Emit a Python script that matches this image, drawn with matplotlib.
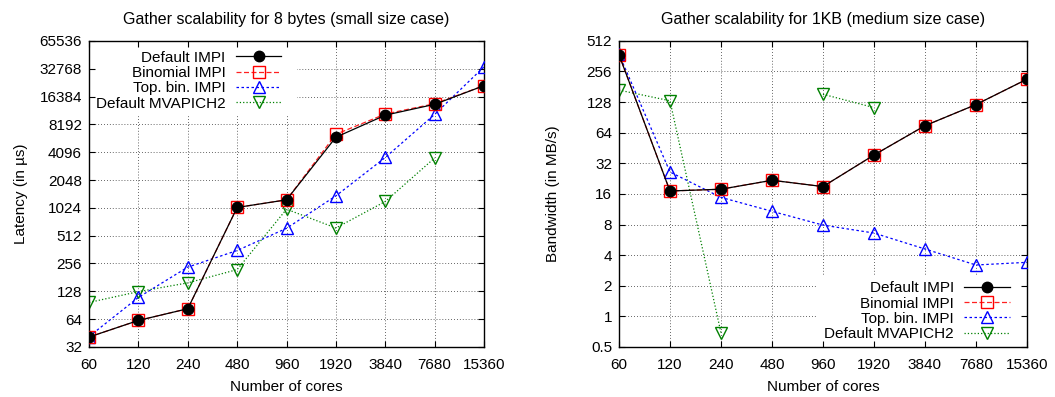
import numpy as np
import matplotlib.pyplot as plt
from matplotlib.patches import Rectangle

plt.rcParams['font.family'] = ['Liberation Sans', 'DejaVu Sans']
plt.rcParams['font.size'] = 11

cores = [60, 120, 240, 480, 960, 1920, 3840, 7680, 15360]

# latency (us), 8 bytes
lat_default = [41, 62, 83, 1034, 1250, 5950, 10300, 13500, 21500]
lat_binomial = [41, 62, 83, 1034, 1250, 6400, 10600, 13700, 21500]
lat_topbin = [41.5, 110, 234, 354, 615, 1380, 3590, 10500, 34400]
lat_mvapich = [97, 127, 158, 220, 990, 620, 1200, 3550, np.nan]

# bandwidth (MB/s), 1KB
bw_default = [375, 17.1, 17.8, 21.8, 18.9, 38.6, 75, 121, 215]
bw_binomial = [375, 17.1, 17.8, 21.8, 18.9, 38.6, 75, 121, 215]
bw_topbin = [380, 26.3, 14.8, 10.8, 7.9, 6.6, 4.6, 3.2, 3.4]
bw_mvapich = [168, 132, 0.69, np.nan, 153, 113, np.nan, np.nan, np.nan]

lat_ticks = [32, 64, 128, 256, 512, 1024, 2048, 4096, 8192, 16384, 32768, 65536]
bw_ticks = [0.5, 1, 2, 4, 8, 16, 32, 64, 128, 256, 512]

labels = ["Default IMPI", "Binomial IMPI", "Top. bin. IMPI", "Default MVAPICH2"]

fig = plt.figure(figsize=(10.55, 3.97), dpi=100)
ax1 = fig.add_axes([0.0844, 0.126, 0.3744, 0.771])
ax2 = fig.add_axes([0.5867, 0.126, 0.3867, 0.771])


def draw(ax, d, b, t, m, yt):
    ax.plot(cores, d, "-", color="black", lw=0.9, marker="o", ms=7.5,
            mfc="black", mec="black", label=labels[0], zorder=5)
    ax.plot(cores, b, "--", color="#ff2020", lw=0.9, marker="s", ms=8,
            mfc="none", mec="red", label=labels[1], zorder=4, dashes=(4, 2))
    ax.plot(cores, t, "--", color="blue", lw=0.9, marker="^", ms=8,
            mfc="none", mec="blue", label=labels[2], zorder=3, dashes=(2, 2))
    ax.plot(cores, m, ":", color="#008000", lw=0.9, marker="v", ms=8,
            mfc="none", mec="#008000", label=labels[3], zorder=2)
    ax.set_xscale("log", base=2)
    ax.set_yscale("log", base=2)
    ax.set_xlim(60, 15360)
    ax.set_ylim(yt[0], yt[-1])
    ax.set_xticks(cores)
    ax.set_xticklabels([str(c) for c in cores])
    ax.set_yticks(yt)
    ax.minorticks_off()
    # grid by hand so the key box can hide it
    for c in cores[1:-1]:
        ax.axvline(c, color="#333333", ls=(0, (1, 2.5)), lw=0.6, zorder=0.8)
    for v in yt[1:-1]:
        ax.axhline(v, color="#333333", ls=(0, (1, 2.5)), lw=0.6, zorder=0.8)
    ax.tick_params(direction="in", top=True, right=True, length=4,
                   labelsize=11)
    ax.tick_params(axis="x", pad=8)
    ax.tick_params(axis="y", pad=5)
    ax.set_xlabel("Number of cores", labelpad=6)
    for s in ax.spines.values():
        s.set_linewidth(1.0)


def make_legend(ax, loc, anchor):
    return ax.legend(loc=loc, bbox_to_anchor=anchor, markerfirst=False,
                     frameon=False, borderpad=0.15, labelspacing=0.08,
                     handlelength=3.0, handletextpad=0.65, borderaxespad=0.0,
                     fontsize=11)


draw(ax1, lat_default, lat_binomial, lat_topbin, lat_mvapich, lat_ticks)
ax1.set_yticklabels([str(v) for v in lat_ticks])
ax1.set_ylabel("Latency (in \u00b5s)", labelpad=8)
ax1.set_title("Gather scalability for 8 bytes (small size case)", fontsize=11.5, pad=12)
ax1.add_patch(Rectangle((0, 0.758), 0.527, 0.242, transform=ax1.transAxes,
                        facecolor="white", edgecolor="none", zorder=1))
leg1 = make_legend(ax1, "upper left", (0.012, 0.975))
leg1._legend_box.align = "right"

draw(ax2, bw_default, bw_binomial, bw_topbin, bw_mvapich, bw_ticks)
ax2.set_yticklabels(["0.5"] + [str(int(v)) for v in bw_ticks[1:]])
ax2.set_ylabel("Bandwidth (in MB/s)", labelpad=19)
ax2.set_title("Gather scalability for 1KB (medium size case)", fontsize=11.5, pad=12)
ax2.add_patch(Rectangle((0.485, 0), 0.515, 0.235, transform=ax2.transAxes,
                        facecolor="white", edgecolor="none", zorder=1))
leg2 = make_legend(ax2, "lower right", (0.963, 0.012))
leg2._legend_box.align = "right"

fig.savefig("out.png", dpi=100)
